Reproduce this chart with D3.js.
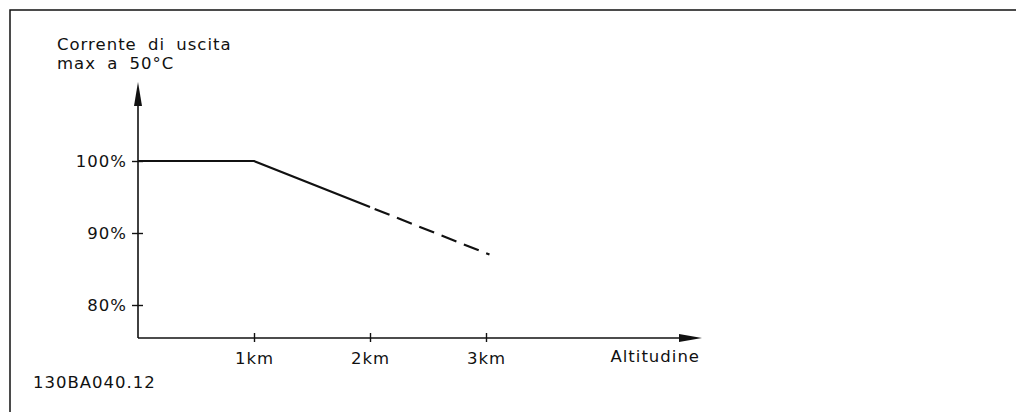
<!DOCTYPE html>
<html lang="en">
    <head>
        <meta charset="utf-8">
        <title>Corrente di uscita vs altitudine</title>
        <script type="text/javascript" src="https://d3js.org/d3.v7.min.js"></script>
        <style>
            body { margin: 0; background: #fff; }
            text {
                font-family: "DejaVu Sans", sans-serif;
                font-size: 16.5px;
                fill: #111;
                letter-spacing: 1px;
                word-spacing: 5px;
            }
            .axis line, .axis path { stroke: #111; }
        </style>
    </head>
    <body>
        <svg id="chart" width="1016" height="412"></svg>
    </body>
    <script>
        // values
        let altitudeKm = [0, 1, 2, 3.03];
        let currentPct = [100, 100, 93.6, 87.0];
        let solidCount = 3;   // first 3 points solid, rest dashed
        let yTicks = [80, 90, 100];
        let xTicks = [1, 2, 3];
        let titleLines = ["Corrente di uscita", "max a 50°C"];
        let xTitle = "Altitudine";
        let drawingCode = "130BA040.12";

        let svg = d3.select("#chart");

        // frame (top + left)
        svg.append("path")
            .attr("d", "M10,412 V10 H1016")
            .attr("fill", "none")
            .attr("stroke", "#111")
            .attr("stroke-width", 1.5);

        let x = d3.scaleLinear().domain([0, 3]).range([138, 486]);
        let y = d3.scaleLinear().domain([80, 100]).range([305, 161]);
        let originY = 338;
        let axisEndX = 702;
        let axisTopY = 82;

        // axes lines with arrow heads
        svg.append("line")
            .attr("x1", x(0)).attr("x2", axisEndX - 20)
            .attr("y1", originY).attr("y2", originY)
            .attr("stroke", "#111").attr("stroke-width", 1.6);
        svg.append("line")
            .attr("x1", x(0)).attr("x2", x(0))
            .attr("y1", originY).attr("y2", axisTopY + 20)
            .attr("stroke", "#111").attr("stroke-width", 1.6);
        svg.append("path")
            .attr("d", "M" + axisEndX + "," + originY + " L" + (axisEndX - 23) + "," + (originY - 4) + " L" + (axisEndX - 23) + "," + (originY + 4) + "Z")
            .attr("fill", "#111");
        svg.append("path")
            .attr("d", "M" + x(0) + "," + axisTopY + " L" + (x(0) - 4) + "," + (axisTopY + 24) + " L" + (x(0) + 4) + "," + (axisTopY + 24) + "Z")
            .attr("fill", "#111");

        // y ticks
        let yAxis = svg.append("g")
            .attr("class", "axis")
            .attr("transform", "translate(" + x(0) + ",0)")
            .call(d3.axisLeft(y).tickValues(yTicks).tickFormat(d => d + "%").tickSize(6).tickPadding(5));
        yAxis.select(".domain").remove();
        yAxis.selectAll(".tick line").attr("x1", 5).attr("x2", -6).attr("stroke-width", 1.4);
        yAxis.selectAll(".tick text").attr("font-size", null).attr("font-family", null).attr("dy", "0.35em");

        // x ticks
        let xAxis = svg.append("g")
            .attr("class", "axis")
            .attr("transform", "translate(0," + originY + ")")
            .call(d3.axisBottom(x).tickValues(xTicks).tickFormat(d => d + "km").tickSize(4).tickPadding(10));
        xAxis.select(".domain").remove();
        xAxis.selectAll(".tick line").attr("y1", -5).attr("y2", 4).attr("stroke-width", 1.4);
        xAxis.selectAll(".tick text").attr("font-size", null).attr("font-family", null);

        // data line
        let pts = altitudeKm.map((a, i) => [a, currentPct[i]]);
        let line = d3.line().x(d => x(d[0])).y(d => y(d[1]));

        svg.append("path")
            .datum(pts.slice(0, solidCount))
            .attr("d", line)
            .attr("fill", "none")
            .attr("stroke", "#111")
            .attr("stroke-width", 2.2);
        svg.append("path")
            .datum(pts.slice(solidCount - 1))
            .attr("d", line)
            .attr("fill", "none")
            .attr("stroke", "#111")
            .attr("stroke-width", 2.2)
            .attr("stroke-dasharray", "16 8")
            .attr("stroke-dashoffset", 19);

        // texts
        svg.selectAll(".title")
            .data(titleLines)
            .enter()
            .append("text")
            .attr("x", 57)
            .attr("y", (d, i) => 50 + i * 19)
            .text(d => d);

        svg.append("text")
            .attr("x", 700)
            .attr("y", 362)
            .attr("text-anchor", "end")
            .text(xTitle);

        svg.append("text")
            .attr("x", 33)
            .attr("y", 388)
            .text(drawingCode);
    </script>
</html>
